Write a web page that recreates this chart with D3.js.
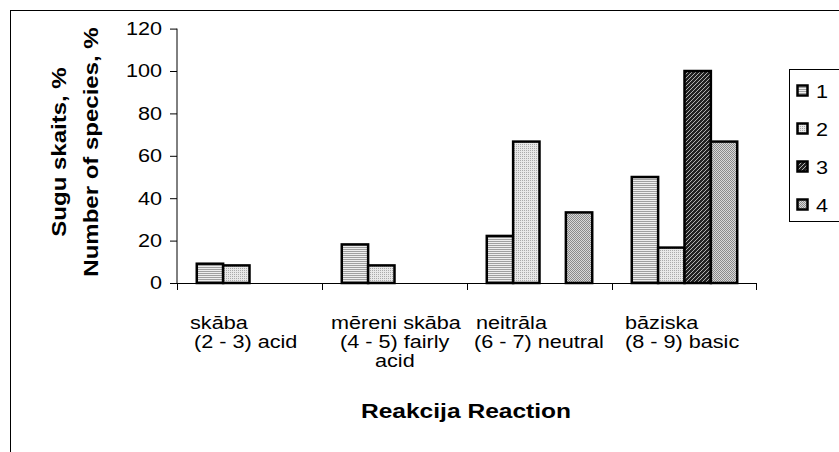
<!DOCTYPE html>
<html>
<head>
<meta charset="utf-8">
<script src="https://cdn.jsdelivr.net/npm/d3@7"></script>
<style>
  body { margin: 0; background: #fff; }
  text { font-family: "Liberation Sans", Arial, sans-serif; fill: #000; }
</style>
</head>
<body>
<div id="chart"></div>
<script>
// Chart data
const categories = ['skāba', 'mēreni skāba', 'neitrāla', 'bāziska'];
const categoryLines = [
  ['skāba', '(2 - 3) acid'],
  ['mēreni skāba', '(4 - 5) fairly', 'acid'],
  ['neitrāla', '(6 - 7) neutral'],
  ['bāziska', '(8 - 9) basic']
];
const seriesNames = ['1', '2', '3', '4'];
const series1 = [9.1, 18.2, 22.2, 50];
const series2 = [8.3, 8.3, 66.7, 16.7];
const series3 = [0, 0, 0, 100];
const series4 = [0, 0, 33.3, 66.7];
const yTicks = [0, 20, 40, 60, 80, 100, 120];

const width = 839, height = 452;
const stretch = 1.17; // the original text is a bit wide
const svg = d3.select('#chart').append('svg')
  .attr('width', width).attr('height', height);

// fill patterns, roughly like the old Excel ones
const defs = svg.append('defs');
function pat(id, size, bg, cells, color) {
  const p = defs.append('pattern').attr('id', id)
    .attr('patternUnits', 'userSpaceOnUse')
    .attr('width', size).attr('height', size);
  p.append('rect').attr('width', size).attr('height', size).attr('fill', bg);
  cells.forEach(c => p.append('rect').attr('x', c[0]).attr('y', c[1])
    .attr('width', 1).attr('height', 1).attr('fill', color));
}
pat('p1', 2, '#eeeeee', [[0, 1], [1, 1]], '#a0a0a0');
pat('p2', 2, '#e8e8e8', [[0, 0]], '#aaaaaa');
pat('p3', 4, '#222222', [[0, 3], [1, 2], [2, 1], [3, 0]], '#b0b0b0');
pat('p4', 2, '#d8d8d8', [[0, 0], [1, 1]], '#8a8a8a');
const fills = ['url(#p1)', 'url(#p2)', 'url(#p3)', 'url(#p4)'];

// outer chart frame (only top/left visible)
svg.append('rect').attr('x', 10.5).attr('y', 10.5)
  .attr('width', 840).attr('height', 450)
  .attr('fill', 'none').attr('stroke', '#000').attr('stroke-width', 1);

const plot = { left: 177, right: 757, top: 28.6, bottom: 283 };

const x0 = d3.scaleBand().domain(categories)
  .range([plot.left, plot.right]).paddingInner(0).paddingOuter(0);
const x1 = d3.scaleBand().domain(seriesNames)
  .range([0, x0.bandwidth()]).paddingInner(0).paddingOuter(0.75);
const y = d3.scaleLinear().domain([0, 120]).range([plot.bottom, plot.top]);

// y axis
const yAxis = svg.append('g').attr('transform', `translate(${plot.left},0)`)
  .call(d3.axisLeft(y).tickValues(yTicks).tickSize(7));
yAxis.select('.domain').attr('stroke', '#000').attr('d', `M0,${plot.top}V${plot.bottom}`);
yAxis.selectAll('.tick line').attr('stroke', '#000');
yAxis.selectAll('text').attr('x', 0)
  .attr('transform', `translate(-15,0) scale(${stretch},1)`)
  .style('font-size', '18.5px')
  .style('font-family', '"Liberation Sans", Arial, sans-serif').attr('fill', '#000');

// x axis with ticks between categories
const xa = svg.append('g');
xa.append('line').attr('x1', plot.left).attr('x2', plot.right)
  .attr('y1', plot.bottom + 0.5).attr('y2', plot.bottom + 0.5).attr('stroke', '#000');
xa.selectAll('line.tk').data(categories.concat(['end'])).join('line')
  .attr('class', 'tk')
  .attr('x1', (d, i) => i < categories.length ? x0(d) + 0.5 : plot.right - 0.5)
  .attr('x2', (d, i) => i < categories.length ? x0(d) + 0.5 : plot.right - 0.5)
  .attr('y1', plot.bottom).attr('y2', plot.bottom + 7).attr('stroke', '#000');

// bars
const allSeries = [series1, series2, series3, series4];
const bars = svg.append('g');
categories.forEach((c, ci) => {
  allSeries.forEach((s, si) => {
    const v = s[ci];
    if (!v) return;
    bars.append('rect')
      .attr('x', x0(c) + x1(seriesNames[si]))
      .attr('y', y(v))
      .attr('width', x1.bandwidth())
      .attr('height', y(0) - y(v))
      .attr('fill', fills[si])
      .attr('stroke', '#000').attr('stroke-width', 2.5);
  });
});

// category labels (wrapped like the original)
const labelX = [[190, 194], [331, 340, 375], [476, 474], [625, 625]];
categoryLines.forEach((lines, ci) => {
  lines.forEach((ln, li) => {
    svg.append('text')
      .attr('transform', `translate(${labelX[ci][li]},${329 + li * 19}) scale(${stretch},1)`)
      .style('font-size', '18.5px').text(ln);
  });
});

// axis titles
svg.append('text').attr('text-anchor', 'middle')
  .attr('transform', `translate(466,418) scale(${stretch},1)`)
  .style('font-size', '21px').style('font-weight', 'bold').text('Reakcija Reaction');
const yt = svg.append('g').attr('transform', 'translate(0,152) rotate(-90) scale(1.2,1)');
yt.append('text').attr('x', 0).attr('y', 66).attr('text-anchor', 'middle')
  .style('font-size', '20px').style('font-weight', 'bold').text('Sugu skaits, %');
yt.append('text').attr('x', 0).attr('y', 98).attr('text-anchor', 'middle')
  .style('font-size', '20px').style('font-weight', 'bold').text('Number of species, %');

// legend
const lg = svg.append('g');
lg.append('rect').attr('x', 789.5).attr('y', 69.5).attr('width', 60).attr('height', 152)
  .attr('fill', '#fff').attr('stroke', '#000');
seriesNames.forEach((n, i) => {
  const cy = 91 + i * 38;
  lg.append('rect').attr('x', 797.5).attr('y', cy - 5.5).attr('width', 10).attr('height', 10)
    .attr('fill', fills[i]).attr('stroke', '#000').attr('stroke-width', 2.5);
  lg.append('text')
    .attr('transform', `translate(816,${cy + 7}) scale(${stretch},1)`)
    .style('font-size', '18.5px').text(n);
});
</script>
</body>
</html>
